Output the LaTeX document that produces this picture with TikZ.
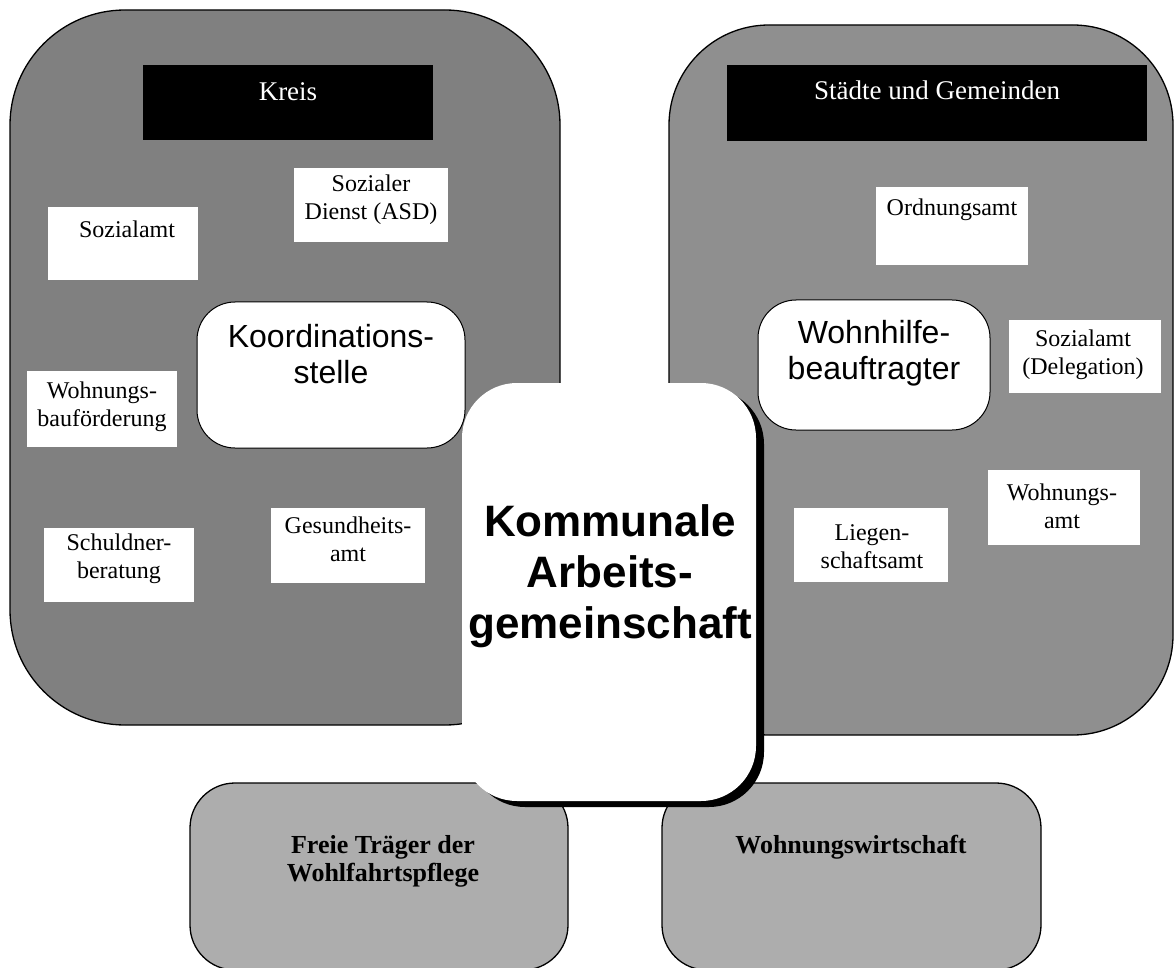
\documentclass[tikz,border=0pt]{standalone}
\usepackage{fontspec}
\setmainfont{Liberation Serif}
\newfontfamily\arialf{Liberation Sans}
\definecolor{leftgrey}{gray}{0.50}
\definecolor{rightgrey}{gray}{0.56}
\definecolor{lowgrey}{gray}{0.68}
\tikzset{
  bigbox/.style={draw=black, line width=1.3pt, inner sep=0pt},
  headbar/.style={fill=black, inner sep=0pt},
  wbox/.style={fill=white, inner sep=0pt},
  rbox/.style={fill=white, draw=black, line width=1pt, rounded corners=38pt, inner sep=0pt},
  tx/.style={align=center, inner sep=0pt, font=\fontsize{24}{28}\selectfont},
  headtx/.style={align=center, inner sep=0pt, text=white, font=\fontsize{27}{30}\selectfont},
  coordtx/.style={align=center, inner sep=0pt, font=\arialf\fontsize{32}{36}\selectfont},
  komtx/.style={align=center, inner sep=0pt, font=\arialf\bfseries\fontsize{44}{51}\selectfont},
  lowtx/.style={align=center, inner sep=0pt, font=\bfseries\fontsize{26}{28}\selectfont}
}
\begin{document}
\begin{tikzpicture}[x=1pt, y=-1pt]
\useasboundingbox[fill=white] (0,0) rectangle (1175,968);
% large groups
\node[bigbox, fill=leftgrey, rounded corners=115pt, minimum width=550pt, minimum height=715pt] (kreisbox) at (285,367.5) {};
\node[bigbox, fill=rightgrey, rounded corners=100pt, minimum width=504pt, minimum height=710pt] (staedtebox) at (921,380) {};
\node[bigbox, fill=lowgrey, rounded corners=45pt, minimum width=378pt, minimum height=187pt] (freiebox) at (379,876.5) {};
\node[bigbox, fill=lowgrey, rounded corners=45pt, minimum width=379pt, minimum height=187pt] (wwbox) at (851.5,876.5) {};
% header bars
\node[headbar, minimum width=290pt, minimum height=75pt] (kreisbar) at (288,102.5) {};
\node[headtx] (kreistx) at (288,92) {Kreis};
\node[headbar, minimum width=420pt, minimum height=76pt] (staedtebar) at (937,103) {};
\node[headtx] (staedtetx) at (937,90) {Städte und Gemeinden};
% white boxes, Kreis
\node[wbox, minimum width=150pt, minimum height=73pt] (sozbox) at (123,243.5) {};
\node[tx] (soztx) at (127,229) {Sozialamt};
\node[wbox, minimum width=154pt, minimum height=74pt] (asdbox) at (371,205) {};
\node[tx] (asdtx) at (371,200) {Sozialer\\Dienst (ASD)};
\node[wbox, minimum width=150pt, minimum height=76pt] (wbfbox) at (102,409) {};
\node[tx] (wbftx) at (102,406.5) {Wohnungs-\\bauförderung};
\node[wbox, minimum width=150pt, minimum height=74pt] (schbox) at (119,565) {};
\node[tx] (schtx) at (119,558.5) {Schuldner-\\beratung};
\node[wbox, minimum width=154pt, minimum height=75pt] (gesbox) at (348,545.5) {};
\node[tx] (gestx) at (348,539.5) {Gesundheits-\\amt};
% white boxes, Staedte
\node[wbox, minimum width=152pt, minimum height=78pt] (ordbox) at (952,226) {};
\node[tx] (ordtx) at (952,210) {Ordnungsamt};
\node[wbox, minimum width=152pt, minimum height=73pt] (sdbox) at (1085,356.5) {};
\node[tx] (sdtx) at (1083,355) {Sozialamt\\(Delegation)};
\node[wbox, minimum width=152pt, minimum height=75pt] (wabox) at (1064,507.5) {};
\node[tx] (watx) at (1062,506) {Wohnungs-\\amt};
\node[wbox, minimum width=154pt, minimum height=74pt] (liebox) at (871,545) {};
\node[tx] (lietx) at (872,546.5) {Liegen-\\schaftsamt};
% central Kommunale Arbeitsgemeinschaft
\node[fill=black, rounded corners=55pt, inner sep=0pt, minimum width=294pt, minimum height=418pt] (komshadow) at (617,598) {};
\node[fill=white, rounded corners=55pt, inner sep=0pt, minimum width=294pt, minimum height=418pt] (kombox) at (609,592) {};
\node[komtx] (komtx) at (610,576) {Kommunale\\Arbeits-\\gemeinschaft};
% rounded coordination boxes
\node[rbox, minimum width=268pt, minimum height=146pt] (koordbox) at (331,375) {};
\node[coordtx] (koordtx) at (331,354.5) {Koordinations-\\stelle};
\node[rbox, minimum width=232pt, minimum height=130pt] (whbbox) at (874,365) {};
\node[coordtx] (whbtx) at (874,353.5) {Wohnhilfe-\\beauftragter};
% lower boxes text
\node[lowtx] (freietx) at (383,861.5) {Freie Träger der\\Wohlfahrtspflege};
\node[lowtx] (wwtx) at (851,847) {Wohnungswirtschaft};
\end{tikzpicture}
\end{document}
